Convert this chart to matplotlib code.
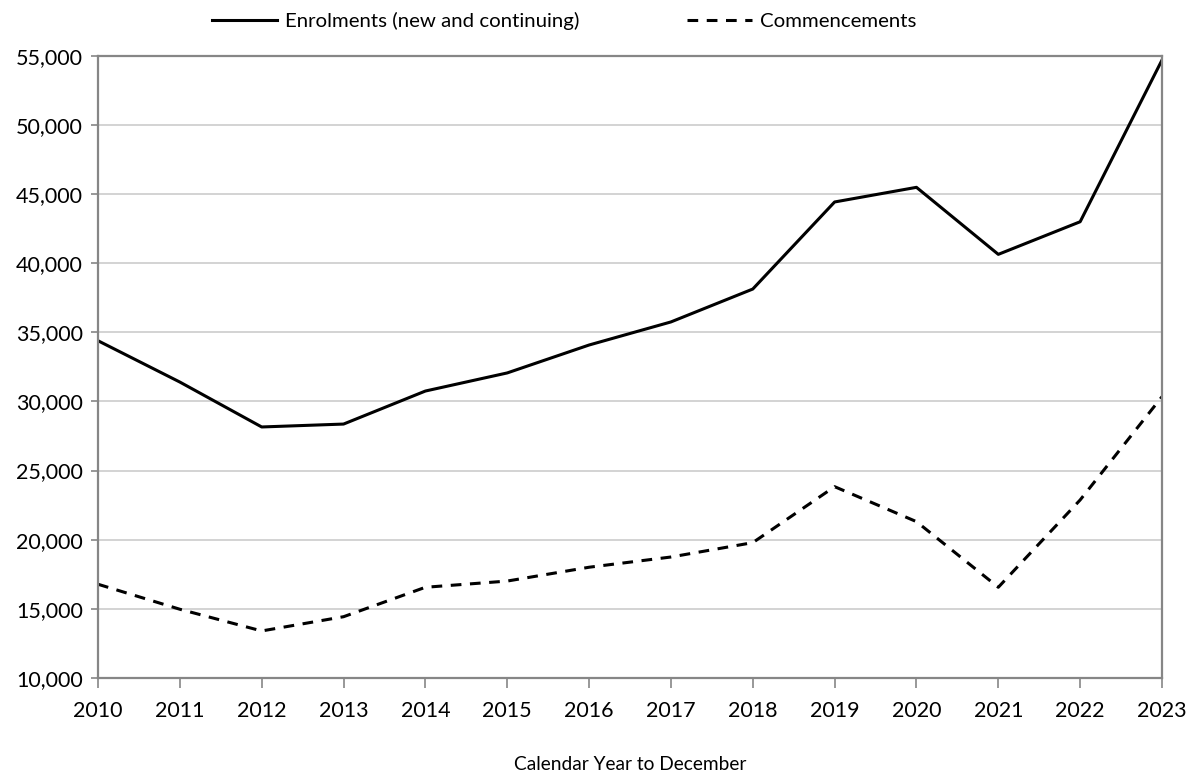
import matplotlib
matplotlib.use("Agg")
import matplotlib.pyplot as plt
from matplotlib.ticker import FuncFormatter, MultipleLocator

years = [2010, 2011, 2012, 2013, 2014, 2015, 2016, 2017, 2018, 2019, 2020, 2021, 2022, 2023]
enrolments = [34390, 31400, 28150, 28360, 30750, 32060, 34080, 35750, 38130, 44430, 45490, 40640, 43000, 54700]
commencements = [16770, 14960, 13390, 14420, 16550, 17000, 18000, 18740, 19780, 23830, 21300, 16550, 22870, 30340]

plt.rcParams['font.family'] = ['Lato', 'DejaVu Sans']

W, H = 1193, 776
fig = plt.figure(figsize=(W / 100, H / 100), dpi=100)
ax = fig.add_axes([98 / W, (H - 677.8) / H, (1162 - 98) / W, (677.8 - 55.9) / H])

ax.plot(years, enrolments, color='black', lw=2.2, label='Enrolments (new and continuing)')
ax.plot(years, commencements, color='black', lw=2.2, ls=(0, (3.5, 2.8)), label='Commencements')

ax.set_xlim(2010, 2023)
ax.set_ylim(10000, 55000)
ax.yaxis.set_major_locator(MultipleLocator(5000))
ax.set_xticks(years)
ax.yaxis.set_major_formatter(FuncFormatter(lambda v, p: f"{int(v):,}"))
ax.grid(axis='y', color='#c8c8c8', lw=1.1)
ax.set_axisbelow(True)
for s in ax.spines.values():
    s.set_color('#868686')
    s.set_linewidth(1.6)

ax.tick_params(axis='x', length=7, width=1.2, color='#868686', direction='out', pad=10, labelsize=15.5)
ax.tick_params(axis='y', length=5, width=1.2, color='#868686', direction='out', pad=6, labelsize=15.5)

ax.set_xlabel('Calendar Year to December', fontsize=13.8, labelpad=25)

fig.legend(loc='center', bbox_to_anchor=(564 / W, 1 - 21 / H), ncol=2, frameon=False,
           fontsize=14.7, handlelength=3.2, columnspacing=5.3, handletextpad=0.35)

fig.savefig('out.png', dpi=100)
